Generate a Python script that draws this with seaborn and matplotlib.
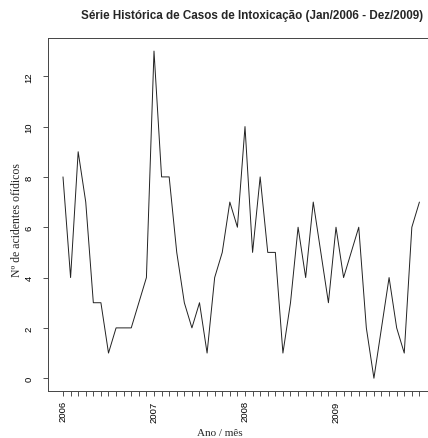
import numpy as np
import pandas as pd
import matplotlib
matplotlib.use("Agg")
import matplotlib.pyplot as plt
import seaborn as sns

# Monthly cases Jan/2006 - Dec/2009
casos_2006 = [8, 4, 9, 7, 3, 3, 1, 2, 2, 2, 3, 4]
casos_2007 = [13, 8, 8, 5, 3, 2, 3, 1, 4, 5, 7, 6]
casos_2008 = [10, 5, 8, 5, 5, 1, 3, 6, 4, 7, 5, 3]
casos_2009 = [6, 4, 5, 6, 2, 0, 2, 4, 2, 1, 6, 7]
anos = [2006, 2007, 2008, 2009]
y_ticks = [0, 2, 4, 6, 8, 10, 12]

valores = casos_2006 + casos_2007 + casos_2008 + casos_2009
tempo = [a + m / 12 for a in anos for m in range(12)]
df = pd.DataFrame({"tempo": tempo, "casos": valores})

sns.set_style("ticks")
plt.rcParams["font.family"] = ["Liberation Sans", "DejaVu Sans"]

fig = plt.figure(figsize=(4.28, 4.39), dpi=100)
ax = fig.add_axes([48.3 / 428, (439 - 392.3) / 439, (436 - 48.3) / 428, 353.3 / 439])

sns.lineplot(data=df, x="tempo", y="casos", ax=ax, color="#222222", linewidth=0.7)

ax.set_xlim(2006 - 0.1615, 2006 + (436 - 63) / 91)
ax.set_ylim(-0.52, 13.52)

ax.set_xticks(tempo)
ax.set_xticklabels([str(int(t)) if abs(t - round(t)) < 1e-9 else "" for t in tempo],
                   rotation=90, fontsize=6.8)
ax.set_yticks(y_ticks)
ax.set_yticklabels([str(v) for v in y_ticks], rotation=90, va="center", fontsize=6.8)

ax.tick_params(axis="x", length=3.5, width=0.6, pad=3, colors="#333333")
ax.tick_params(axis="y", length=3.5, width=0.6, pad=7, colors="#333333")
for lab in ax.get_xticklabels() + ax.get_yticklabels():
    lab.set_color("black")

for s in ["left", "bottom", "top", "right"]:
    ax.spines[s].set_visible(True)
    ax.spines[s].set_linewidth(0.7)
    ax.spines[s].set_color("#444444")

ax.set_xlabel("")
ax.set_ylabel("")

fig.text(252 / 428, 1 - 16 / 439,
         "Série Histórica de Casos de Intoxicação (Jan/2006 - Dez/2009)",
         ha="center", va="center", fontsize=8.4, fontweight="bold",
         family=["Liberation Sans", "DejaVu Sans"])
fig.text(220 / 428, 1 - 434 / 439, "Ano / mês", ha="center", va="center",
         fontsize=8, family=["Liberation Serif", "DejaVu Serif"])
fig.text(17 / 428, 1 - 220 / 439, "Nº de acidentes ofídicos", ha="center", va="center",
         rotation=90, fontsize=8.5, family=["Liberation Serif", "DejaVu Serif"])

fig.savefig("out.png", dpi=100, facecolor="white")
